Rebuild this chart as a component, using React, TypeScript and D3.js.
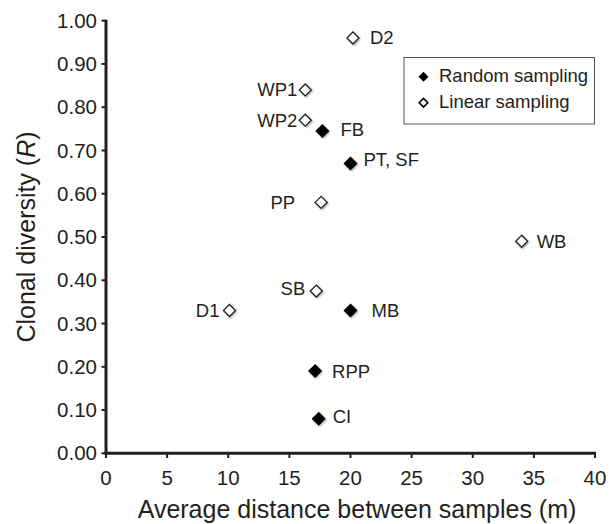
import React from "react";
import * as d3 from "d3";

const randomNames = ["FB", "PT, SF", "MB", "RPP", "CI"];
const randomX = [17.7, 20.0, 20.0, 17.1, 17.4];
const randomY = [0.745, 0.67, 0.33, 0.19, 0.08];

const linearNames = ["D2", "WP1", "WP2", "PP", "SB", "D1", "WB"];
const linearX = [20.2, 16.3, 16.3, 17.6, 17.2, 10.1, 34.0];
const linearY = [0.96, 0.84, 0.77, 0.58, 0.375, 0.33, 0.49];

const xTicks = [0, 5, 10, 15, 20, 25, 30, 35, 40];
const yTicks = [0, 0.1, 0.2, 0.3, 0.4, 0.5, 0.6, 0.7, 0.8, 0.9, 1.0];

const legendLabels = ["Random sampling", "Linear sampling"];

// label placement: side ('r' right / 'l' left), gap from point, vertical shift
const labelPlacement: Record<string, [string, number, number]> = {
  FB: ["r", 18, -1],
  "PT, SF": ["r", 13, -4],
  MB: ["r", 21, 0],
  RPP: ["r", 17, 0],
  CI: ["r", 14, -2],
  D2: ["r", 17, 0],
  WP1: ["l", 8, 0],
  WP2: ["l", 8, 0],
  PP: ["l", 26, 0],
  SB: ["l", 11, -3],
  D1: ["l", 10, 0],
  WB: ["r", 15, 0],
};

const W = 613;
const H = 524;
const FONT = "'Liberation Sans', Arial, Helvetica, sans-serif";
const INK = "#231f20";

function diamond(cx: number, cy: number, r: number) {
  return `M${cx},${cy - r}L${cx + r},${cy}L${cx},${cy + r}L${cx - r},${cy}Z`;
}

export default function App() {
  const x = d3.scaleLinear().domain([0, 40]).range([106, 595]);
  const y = d3.scaleLinear().domain([0, 1]).range([453.3, 20.7]);

  const label = (name: string, px: number, py: number) => {
    const [side, gap, dy] = labelPlacement[name];
    return (
      <text
        key={"l" + name}
        x={side === "r" ? px + gap : px - gap}
        y={py + dy}
        dy="0.35em"
        textAnchor={side === "r" ? "start" : "end"}
        fontSize={18.5}
        fill={INK}
      >
        {name}
      </text>
    );
  };

  return (
    <svg
      width={W}
      height={H}
      style={{ position: "absolute", left: 0, top: 0, background: "#fff" }}
      fontFamily={FONT}
    >
      <defs>
        <filter id="sh" x="-50%" y="-50%" width="200%" height="200%">
          <feGaussianBlur in="SourceAlpha" stdDeviation="1.2" />
          <feOffset dx="0.5" dy="1.2" result="b" />
          <feComponentTransfer>
            <feFuncA type="linear" slope="0.35" />
          </feComponentTransfer>
          <feMerge>
            <feMergeNode />
            <feMergeNode in="SourceGraphic" />
          </feMerge>
        </filter>
      </defs>

      {/* y ticks */}
      {yTicks.map((t) => (
        <g key={"yt" + t}>
          <line x1={101.5} x2={106} y1={y(t)} y2={y(t)} stroke={INK} strokeWidth={2} />
          <text x={97} y={y(t)} dy="0.35em" textAnchor="end" fontSize={20.5} fill={INK}>
            {d3.format(".2f")(t)}
          </text>
        </g>
      ))}
      {/* x ticks */}
      {xTicks.map((t) => (
        <g key={"xt" + t}>
          <line x1={x(t)} x2={x(t)} y1={453} y2={458} stroke={INK} strokeWidth={2} />
          <text x={x(t)} y={485} textAnchor="middle" fontSize={20.5} fill={INK}>
            {t}
          </text>
        </g>
      ))}
      {/* axes */}
      <line x1={106} x2={106} y1={y(1) - 1} y2={y(0) + 1.5} stroke={INK} strokeWidth={3} />
      <line x1={104.5} x2={x(40) + 1} y1={y(0)} y2={y(0)} stroke={INK} strokeWidth={3} />

      {/* axis titles */}
      <text x={357} y={518} textAnchor="middle" fontSize={25} fill={INK}>
        Average distance between samples (m)
      </text>
      <text
        transform={`translate(35,${237}) rotate(-90)`}
        textAnchor="middle"
        fontSize={25}
        fill={INK}
      >
        Clonal diversity (<tspan fontStyle="italic">R</tspan>)
      </text>

      {/* linear (open) */}
      {linearNames.map((n, i) => (
        <path
          key={"lp" + n}
          d={diamond(x(linearX[i]), y(linearY[i]), 6)}
          fill="#fff"
          stroke={INK}
          strokeWidth={1.3}
          filter="url(#sh)"
        />
      ))}
      {/* random (filled) */}
      {randomNames.map((n, i) => (
        <path
          key={"rp" + n}
          d={diamond(x(randomX[i]), y(randomY[i]), 7)}
          fill="#000"
          filter="url(#sh)"
        />
      ))}
      {linearNames.map((n, i) => label(n, x(linearX[i]), y(linearY[i])))}
      {randomNames.map((n, i) => label(n, x(randomX[i]), y(randomY[i])))}

      {/* legend */}
      <rect x={404} y={57.5} width={190.5} height={66.5} fill="#fff" stroke="#555" strokeWidth={1} />
      <path d={diamond(423.5, 76.7, 5)} fill="#000" />
      <path d={diamond(423.5, 102.7, 4.3)} fill="#fff" stroke="#000" strokeWidth={1.6} />
      <text x={439} y={75.5} dy="0.35em" fontSize={18.5} fill={INK}>
        {legendLabels[0]}
      </text>
      <text x={439} y={101.5} dy="0.35em" fontSize={18.5} fill={INK}>
        {legendLabels[1]}
      </text>
    </svg>
  );
}
